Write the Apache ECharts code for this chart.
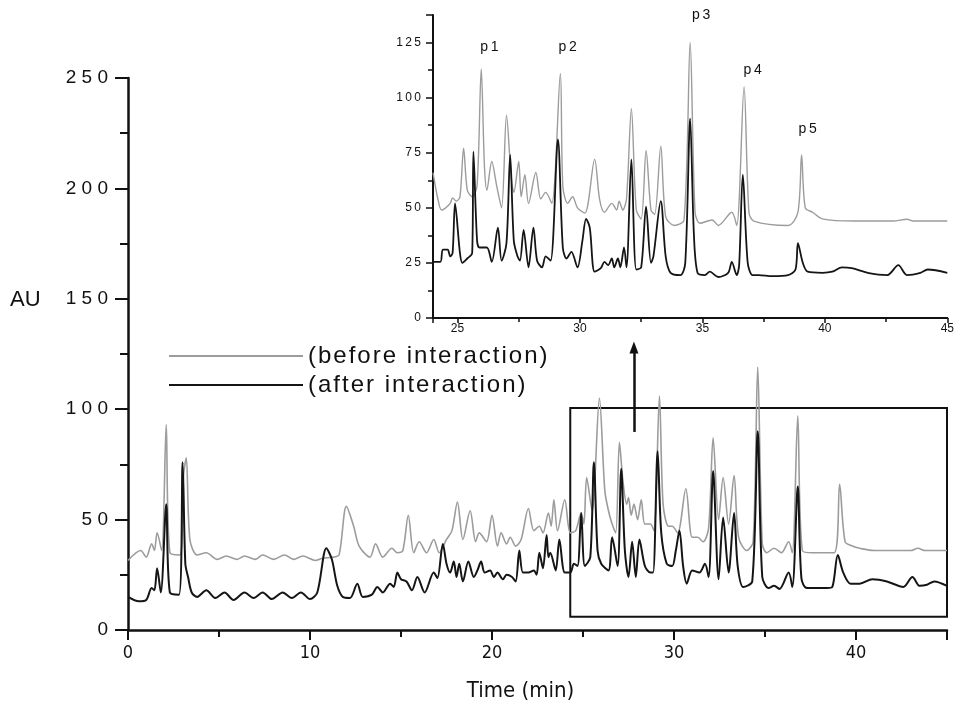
<!DOCTYPE html>
<html>
<head>
<meta charset="utf-8">
<script src="https://cdn.jsdelivr.net/npm/echarts@6.0.0/dist/echarts.min.js"></script>
<style>
  html, body { margin: 0; padding: 0; background: #fff; }
  #chart { width: 957px; height: 710px; }
</style>
</head>
<body>
<div id="chart"></div>
<script>
// chromatogram traces as [time (min), AU]
const mainBefore = [
  [0,31.5],[0.7,36],[1.0,33],[1.3,39],[1.45,36],[1.6,44],[1.85,36],[2.1,93],[2.3,35],[2.85,34],
  [3.05,70],[3.2,78],[3.4,41],[3.8,34],[4.3,35],[4.9,32],[5.4,33.5],[6.0,32],[6.4,33.5],[7.0,32],
  [7.4,34],[8.0,32],[8.6,34],[9.1,32],[9.6,33.5],[10.3,31.5],[10.7,32.5],[11.3,33],[11.6,34],[12.0,56],
  [12.4,47],[12.7,38],[13.3,33],[13.6,39],[14.0,33],[14.5,37],[14.8,35],[15.1,36],[15.4,52],[15.7,35],
  [16.0,40],[16.4,35],[16.8,41],[17.1,35],[17.5,41],[17.8,45],[18.1,58],[18.4,41],[18.8,54],[19.1,40],
  [19.3,44],[19.7,40],[20.0,52],[20.3,38],[20.5,44],[20.8,39],[21.0,42],[21.3,38],[21.6,41],[22.0,55],
  [22.3,45],[22.6,47],[22.8,44],[23.1,53],[23.25,47],[23.4,59],[23.6,45],[24.0,59],[24.3,44],[24.6,45],
  [24.9,53],[25.05,48],[25.2,69],[25.5,54],[25.9,105],[26.2,63],[26.4,54],[26.6,48],[26.8,44],[27.0,85],
  [27.2,67],[27.4,57],[27.5,60],[27.65,52],[27.8,57],[28.0,50],[28.2,59],[28.4,48],[28.7,48],[28.9,45],
  [29.2,106],[29.4,57],[29.7,47],[29.9,47],[30.2,44],[30.65,64],[31.0,42],[31.3,42],[31.6,40],[31.9,46],
  [32.15,87],[32.45,50],[32.7,69],[33.0,48],[33.3,70],[33.55,42],[34.0,36],[34.35,40],[34.6,119],[34.85,39],
  [35.1,35],[35.5,37],[35.9,35],[36.3,40],[36.5,35],[36.8,97],[37.05,36],[37.6,35],[38.8,35],[39.1,66],
  [39.4,40],[39.8,38],[40.2,37],[41,36],[43.0,36],[43.4,37],[43.8,36],[45,36]
];
const mainAfter = [
  [0,15],[0.6,13],[1.0,13.6],[1.3,19],[1.45,18],[1.6,28],[1.8,17],[2.1,57],[2.3,17],[2.8,16],
  [3.0,76],[3.15,30],[3.3,24],[3.5,17],[3.8,15],[4.3,18],[4.8,14.5],[5.3,17],[5.8,13.6],[6.4,17],
  [6.9,14.5],[7.4,17],[7.9,14],[8.5,17],[9.0,14.5],[9.5,17],[10.0,14],[10.4,17],[10.9,37],[11.2,32],
  [11.5,20],[11.8,15],[12.2,14.5],[12.6,21],[12.9,15],[13.4,16],[13.7,19.5],[14.0,17],[14.4,21],[14.6,19.5],
  [14.8,26],[15.0,23],[15.3,22],[15.6,18],[15.9,24],[16.3,17],[16.8,26],[17.0,23.5],[17.3,39],[17.5,30],
  [17.7,26],[17.9,31],[18.05,24],[18.2,30],[18.4,22],[18.7,31],[19.0,24],[19.2,27],[19.4,31],[19.6,26],
  [19.9,27],[20.1,24],[20.3,26],[20.6,23],[20.8,25],[21.1,24],[21.3,22],[21.5,36],[21.7,26],[22.0,26],
  [22.3,27],[22.45,25],[22.6,35],[22.8,28],[23.0,43],[23.1,33],[23.2,35],[23.5,27],[23.7,41],[24.0,26],
  [24.3,26],[24.5,30],[24.7,29],[24.9,53],[25.1,29],[25.4,33],[25.6,76],[25.8,36],[26.0,30],[26.4,27],
  [26.6,42],[26.9,29],[27.1,73],[27.3,36],[27.5,24],[27.7,40],[27.9,24],[28.1,41],[28.4,29],[28.7,26],
  [28.85,26],[29.1,81],[29.3,44],[29.6,30],[29.9,29],[30.1,36],[30.3,45],[30.5,29],[30.7,21],[31.0,27],
  [31.4,26],[31.7,30],[31.9,24],[32.15,72],[32.45,23],[32.7,51],[33.0,26],[33.3,53],[33.5,29],[33.8,19.5],
  [34.3,22],[34.6,90],[34.85,24],[35.2,19],[35.5,20],[35.8,18.6],[36.3,26],[36.5,19.5],[36.8,65],[37.0,23.5],
  [37.3,19],[38.4,19],[38.7,19.5],[39.0,34],[39.3,26],[39.7,21],[40.2,21],[40.9,23],[41.7,22],[42.6,19.5],
  [43.1,24],[43.5,20],[43.9,20.5],[44.3,22],[45,20]
];
// inset (24-45 min, expanded scale)
const insetBefore = [
  [24.0,66],[24.2,54],[24.35,49],[24.7,52],[24.8,54.5],[24.95,53],[25.1,55],[25.25,77],[25.4,58],[25.6,55],
  [25.8,60],[25.97,113],[26.1,69],[26.2,58],[26.4,71],[26.6,60],[26.8,50],[27.0,92],[27.2,63],[27.3,57],
  [27.5,71],[27.6,55],[27.75,65],[27.9,52],[28.2,66],[28.4,54],[28.6,57],[28.85,52],[29.2,111],[29.3,60],
  [29.5,52],[29.7,55],[29.9,50],[30.2,47.6],[30.6,72],[30.8,54],[31.0,48],[31.3,52],[31.5,49],[31.6,53],
  [31.75,49],[31.9,54],[32.1,95],[32.3,49],[32.5,45],[32.7,76],[32.9,49],[33.05,47],[33.3,78],[33.5,46],
  [33.85,42],[34.25,44.5],[34.5,125],[34.7,48],[34.9,43],[35.4,44.5],[35.65,42],[36.2,48],[36.4,42],[36.7,105],
  [36.9,48],[37.1,44],[38.5,42],[38.9,48],[39.05,74],[39.2,50],[39.5,48],[39.9,45],[41.2,44],[42.8,44],
  [43.35,44.8],[43.6,44],[45,44]
];
const insetAfter = [
  [24.0,25.5],[24.3,25.5],[24.4,31],[24.6,31],[24.7,28],[24.8,29.5],[24.9,52],[25.1,29.5],[25.2,25],[25.4,27],
  [25.6,29.5],[25.65,75.5],[25.8,35],[25.9,32],[26.2,32],[26.4,25.5],[26.65,41],[26.8,26],[27.0,34],[27.15,74],
  [27.3,35],[27.45,28],[27.55,26],[27.7,40],[27.9,23],[28.1,41],[28.25,26],[28.45,23],[28.6,28],[28.8,26],
  [29.1,81],[29.3,32],[29.45,27],[29.65,30],[29.9,23],[30.1,35],[30.25,45],[30.4,41],[30.6,21],[30.85,22.6],
  [31.0,25.5],[31.15,24],[31.3,27],[31.4,23],[31.55,27],[31.65,23],[31.8,32],[31.9,23],[32.1,72],[32.3,22],
  [32.5,23],[32.7,50.5],[32.9,25],[33.0,28],[33.3,53],[33.5,28],[33.7,20.5],[34.1,19.5],[34.3,25],[34.5,90.5],
  [34.65,38.6],[34.8,20.5],[35.1,19.5],[35.3,21],[35.65,18.6],[36.05,20.5],[36.2,25.5],[36.4,19.5],[36.5,24],[36.65,65],
  [36.85,25],[37.05,19.5],[37.3,19.5],[37.85,19],[38.5,19.5],[38.8,22],[38.9,34],[39.1,25],[39.3,21],[39.9,20.5],
  [40.3,21],[40.7,23],[41.1,22.6],[41.75,20.5],[42.55,19.5],[43.0,24],[43.35,19.5],[43.9,20.5],[44.2,22],[45,20.5]
];
// peak labels in the inset
const peakNames = ['p1', 'p2', 'p3', 'p4', 'p5'];
const peakTimes = [26.3, 29.5, 34.95, 37.05, 39.3];
const peakLabelY = [123, 123, 137.5, 112.5, 85.5];

const seriesNames = ['(before interaction)', '(after interaction)'];

const spaced = (s, sep) => String(s).split('').join(sep);

let myChart = echarts.init(document.getElementById('chart'));
const axisCol = '#111';
const narrow = "'Liberation Sans Narrow', 'DejaVu Sans Condensed', sans-serif";

myChart.setOption({
  animation: false,
  backgroundColor: '#fff',
  textStyle: { fontFamily: "'Liberation Sans', Arial, sans-serif" },
  graphic: [
    { type: 'text', left: 10, top: 289, style: { text: 'AU', fontSize: 22, fill: '#111', fontFamily: "'Liberation Sans', Arial, sans-serif" } }
  ],
  legend: {
    data: seriesNames,
    orient: 'vertical',
    left: 163,
    top: 339,
    itemWidth: 134,
    itemHeight: 10,
    itemGap: 5,
    itemStyle: { opacity: 0 },
    textStyle: { fontSize: 24, color: '#111' },
    formatter: n => spaced(n, '\u200A')
  },
  grid: [
    { left: 128, right: 10, top: 78, bottom: 80 },
    { left: 433, right: 5, top: 15, bottom: 392 }
  ],
  xAxis: [
    {
      gridIndex: 0, type: 'value', min: 0, max: 45, interval: 10,
      name: 'Time (min)', nameLocation: 'middle', nameGap: 50,
      nameTextStyle: { fontSize: 22, color: '#111', fontFamily: narrow, padding: [0, 34, 0, 0] },
      axisLine: { lineStyle: { color: axisCol, width: 2.5 } },
      axisTick: { length: 10, lineStyle: { width: 2 } },
      minorTick: { show: true, splitNumber: 2, length: 7, lineStyle: { color: axisCol, width: 2 } },
      splitLine: { show: false },
      axisLabel: { fontSize: 18, color: '#111', fontFamily: narrow, margin: 14, formatter: v => (v % 10 === 0 ? v : '') }
    },
    {
      gridIndex: 1, type: 'value', min: 24, max: 45, splitNumber: 5,
      axisLine: { lineStyle: { color: axisCol, width: 2 } },
      axisTick: { length: 5, lineStyle: { width: 1.5 } },
      minorTick: { show: true, splitNumber: 2, length: 4, lineStyle: { color: axisCol, width: 1.5 } },
      splitLine: { show: false },
      axisLabel: { fontSize: 12, color: '#111', margin: 5, formatter: v => (v % 5 === 0 ? v : '') }
    }
  ],
  yAxis: [
    {
      gridIndex: 0, type: 'value', min: 0, max: 250, interval: 50,
      axisLine: { show: true, lineStyle: { color: axisCol, width: 2.5 } },
      axisTick: { show: true, length: 13, lineStyle: { width: 2 } },
      minorTick: { show: true, splitNumber: 2, length: 8, lineStyle: { color: axisCol, width: 2 } },
      splitLine: { show: false },
      axisLabel: { fontSize: 19, color: '#111', margin: 20, formatter: v => spaced(v, ' ') }
    },
    {
      gridIndex: 1, type: 'value', min: 0, max: 137.5, interval: 25,
      axisLine: { show: true, lineStyle: { color: axisCol, width: 2 } },
      axisTick: { show: true, length: 7, lineStyle: { width: 1.5 } },
      minorTick: { show: true, splitNumber: 2, length: 5, lineStyle: { color: axisCol, width: 1.5 } },
      splitLine: { show: false },
      axisLabel: { fontSize: 12, color: '#111', margin: 12, formatter: v => (v % 25 === 0 ? spaced(v, '\u2009') : '') }
    }
  ],
  series: [
    {
      name: seriesNames[0], type: 'line', xAxisIndex: 0, yAxisIndex: 0,
      data: mainBefore, symbol: 'none', smooth: 0.3, color: '#9c9c9c',
      lineStyle: { width: 1.6 },
      markArea: {
        silent: true,
        itemStyle: { color: 'rgba(0,0,0,0)', borderColor: '#111', borderWidth: 2 },
        data: [[{ coord: [24.3, 6] }, { coord: [45.3, 100.5] }]]
      },
      markLine: {
        silent: true,
        symbol: ['none', 'triangle'],
        symbolSize: [9, 12],
        label: { show: false },
        lineStyle: { color: '#111', width: 2.5, type: 'solid' },
        data: [[{ coord: [27.8, 89.7] }, { coord: [27.8, 128] }]]
      }
    },
    {
      name: seriesNames[1], type: 'line', xAxisIndex: 0, yAxisIndex: 0,
      data: mainAfter, symbol: 'none', smooth: 0.3, color: '#151515',
      lineStyle: { width: 2 }
    },
    {
      name: seriesNames[0], type: 'line', xAxisIndex: 1, yAxisIndex: 1,
      data: insetBefore, symbol: 'none', smooth: 0.3, color: '#9c9c9c',
      lineStyle: { width: 1.4 },
      markPoint: {
        silent: true,
        symbol: 'circle',
        symbolSize: 1,
        itemStyle: { color: 'rgba(0,0,0,0)' },
        label: { show: true, position: 'inside', fontSize: 14, color: '#111', formatter: p => spaced(p.name, '\u2009') },
        data: peakNames.map((n, i) => ({ name: n, coord: [peakTimes[i], peakLabelY[i]] }))
      }
    },
    {
      name: seriesNames[1], type: 'line', xAxisIndex: 1, yAxisIndex: 1,
      data: insetAfter, symbol: 'none', smooth: 0.3, color: '#151515',
      lineStyle: { width: 1.8 }
    }
  ]
});
</script>
</body>
</html>
